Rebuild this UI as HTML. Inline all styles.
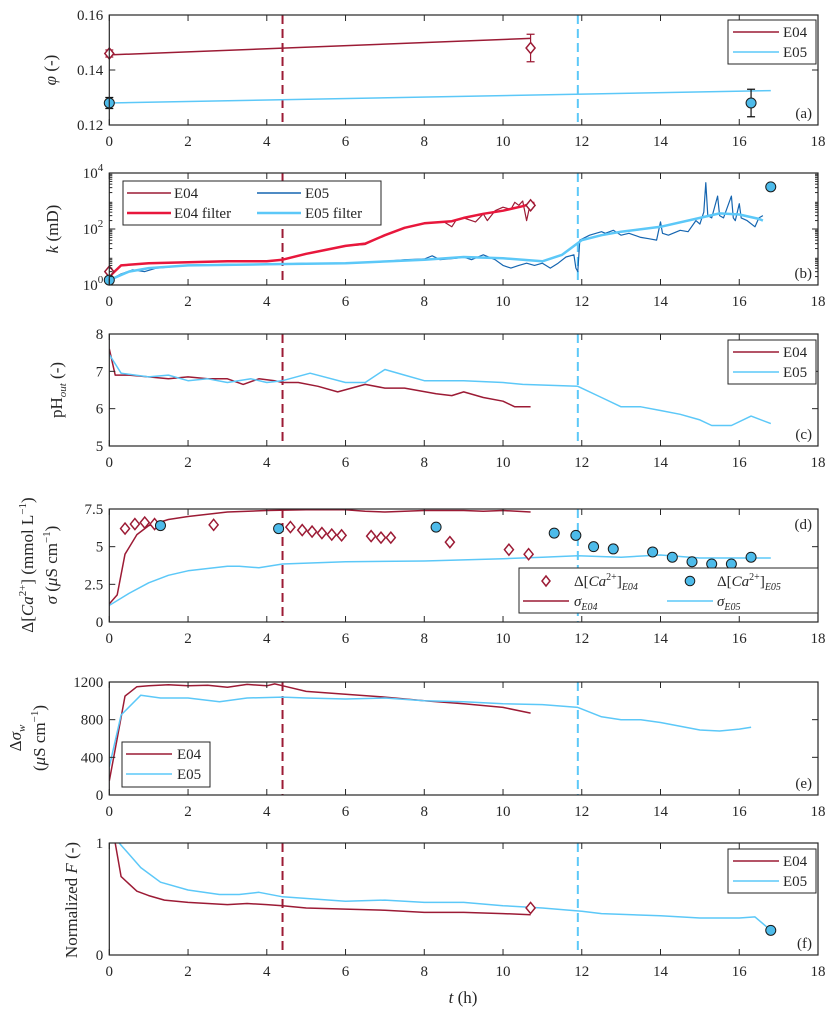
<!DOCTYPE html>
<html><head><meta charset="utf-8"><style>
html,body{margin:0;padding:0;background:#fff}
svg{display:block;font-family:"Liberation Serif",serif}
</style></head><body>
<svg id="fig" width="836" height="1018" viewBox="0 0 836 1018" xmlns="http://www.w3.org/2000/svg"></svg>
<script>
// ---- data ----
const phiE04T=[0,10.7], phiE04V=[0.1455,0.1515];
const phiE05T=[0,16.8], phiE05V=[0.128,0.1325];
const phiE04MarkT=[0,10.7], phiE04MarkV=[0.146,0.148], phiE04Err=[0.0013,0.005];
const phiE05MarkT=[0,16.3], phiE05MarkV=[0.128,0.128], phiE05Err=[0.002,0.005];

const kE04FiltT=[0,0.3,1,2,3,4,4.4,5,5.5,6,6.5,7,7.5,8,8.7,9,9.5,10,10.5,10.8];
const kE04FiltV=[2,5,6,6.5,7,7,8,13,18,25,30,60,110,160,190,250,350,450,650,870];
const kE04RawT=[0,0.3,1,2,3,4,4.4,5,5.5,6,6.5,7,7.5,8,8.5,8.7,8.8,9,9.3,9.5,9.6,9.8,10,10.2,10.3,10.4,10.5,10.6,10.7,10.8];
const kE04RawV=[2,5,6,6.5,7,7,8,13,18,25,28,60,110,160,180,120,200,250,180,350,200,450,600,500,900,700,1000,200,900,700];
const kE05FiltT=[0,0.5,1,2,4,6,8,9,10,11,11.5,12,12.5,13,14,15,15.5,16,16.5,16.6];
const kE05FiltV=[1.5,3,4,5,5.5,6,8,10,9,7,12,40,60,80,120,250,360,330,230,200];
const kE05RawT=[0,0.3,0.6,0.9,1.2,2,3,4,5,6,7,7.5,8,8.2,8.4,8.8,9,9.2,9.5,9.8,10,10.2,10.4,10.6,10.8,11,11.2,11.4,11.6,11.8,11.85,11.9,11.95,12.2,12.5,12.6,12.8,13,13.2,13.5,13.7,13.9,14,14.05,14.2,14.5,14.7,14.9,15.0,15.1,15.15,15.2,15.3,15.45,15.5,15.6,15.8,15.85,15.9,16.0,16.05,16.2,16.4,16.5,16.6];
const kE05RawV=[1.5,2.5,3.5,3,4,5,5.5,5.5,6,6,7,8,8.5,11,8,9,10,8,12,8,5,4,5,6,5,6,4,6,10,12,4,3,40,60,80,70,90,60,70,50,45,40,180,70,60,90,80,200,150,400,4500,300,250,1500,300,250,1500,250,200,800,250,200,120,250,300];
const kE04MarkT=[0,10.7], kE04MarkV=[3,700];
const kE05MarkT=[0,16.8], kE05MarkV=[1.5,3200];

const phE04T=[0,0.15,0.5,1,1.5,2,2.5,3,3.4,3.8,4.2,4.4,4.8,5.3,5.8,6.5,7,7.5,8.3,8.7,9,9.5,10,10.3,10.7];
const phE04V=[7.6,6.9,6.9,6.85,6.8,6.85,6.8,6.8,6.65,6.8,6.75,6.7,6.7,6.6,6.45,6.65,6.55,6.55,6.4,6.35,6.45,6.3,6.2,6.05,6.05];
const phE05T=[0,0.3,1,1.5,2,2.5,3,3.6,4,4.4,5.1,6,6.5,7,7.5,8,9,10,10.5,11.9,12.5,13,13.5,14,14.5,15,15.3,15.8,16.3,16.8];
const phE05V=[7.45,6.95,6.85,6.9,6.75,6.8,6.7,6.8,6.7,6.75,6.95,6.7,6.7,7.05,6.9,6.75,6.75,6.7,6.65,6.6,6.3,6.05,6.05,5.95,5.85,5.7,5.55,5.55,5.8,5.6];

const sgE04T=[0,0.2,0.4,0.7,1,1.5,2,3,4,5,6,6.5,7,8,9,9.5,10,10.7];
const sgE04V=[1.2,1.8,4.5,5.8,6.4,6.8,7.0,7.3,7.4,7.45,7.45,7.35,7.3,7.4,7.4,7.35,7.4,7.3];
const sgE05T=[0,0.5,1,1.5,2,3,3.3,3.8,4.4,6,8,10,11,11.9,13,14,15,16.8];
const sgE05V=[1.1,1.9,2.6,3.1,3.4,3.7,3.7,3.6,3.85,4.0,4.05,4.2,4.3,4.4,4.3,4.45,4.25,4.25];
const caE04T=[0.4,0.65,0.9,1.15,2.65,4.6,4.9,5.15,5.4,5.65,5.9,6.65,6.9,7.15,8.65,10.15,10.65];
const caE04V=[6.2,6.5,6.6,6.5,6.45,6.3,6.1,6.0,5.9,5.8,5.75,5.7,5.6,5.6,5.3,4.8,4.5];
const caE05T=[1.3,4.3,8.3,11.3,11.85,12.3,12.8,13.8,14.3,14.8,15.3,15.8,16.3];
const caE05V=[6.4,6.2,6.3,5.9,5.75,5.0,4.85,4.65,4.3,4.0,3.85,3.85,4.3];

const dsE04T=[0,0.2,0.4,0.7,1,1.5,2,2.5,3,3.5,4,4.2,4.5,5,6,7,8,9,10,10.7];
const dsE04V=[150,600,1050,1150,1160,1170,1160,1165,1145,1175,1160,1180,1150,1100,1070,1040,1000,970,930,870];
const dsE05T=[0,0.3,0.8,1.3,2,2.8,3.5,4.4,5,6,7,8,9,10,11,11.9,12.5,13,13.5,14,15,15.5,16,16.3];
const dsE05V=[300,850,1060,1030,1030,990,1030,1040,1030,1020,1030,1000,990,970,960,930,830,800,800,770,690,680,700,720];

const fE04T=[0,0.15,0.3,0.7,1,1.4,2,3,3.5,4,4.4,5,6,7,8,9,10,10.7];
const fE04V=[1.1,1,0.7,0.57,0.53,0.49,0.47,0.45,0.46,0.45,0.44,0.42,0.41,0.4,0.38,0.38,0.37,0.36];
const fE05T=[0,0.3,0.8,1.3,2,2.8,3.3,3.8,4.4,6,7,8,9,10,11,12,12.5,14,15,16,16.4,16.8];
const fE05V=[1.1,0.98,0.78,0.65,0.58,0.54,0.54,0.56,0.52,0.48,0.49,0.47,0.47,0.44,0.42,0.39,0.37,0.35,0.33,0.33,0.34,0.22];
const fE04MarkT=[10.7], fE04MarkV=[0.42];
const fE05MarkT=[16.8], fE05MarkV=[0.22];

const xTicks=[0,2,4,6,8,10,12,14,16,18];
const eventT=[4.4,11.9];

// ---- drawing ----
const NS="http://www.w3.org/2000/svg";
const svg=document.getElementById('fig');
const DR="#9c1b35", LB="#5cc8f8", RD="#e8173c", DB="#1565b0";
const X0=109.3,X1=818;
const xs=t=>X0+t*(X1-X0)/18;
function mk(tag,attrs,parent){const e=document.createElementNS(NS,tag);for(const k in attrs)e.setAttribute(k,attrs[k]);(parent||svg).appendChild(e);return e;}
function txt(x,y,s,anchor,size,parent,style){const e=mk('text',{x:x,y:y,'text-anchor':anchor||'middle','font-size':size||15,fill:'#262626'},parent);if(style)e.setAttribute('style',style);e.innerHTML=s;return e;}

const panels=[
 {id:'a',top:15,bot:125,min:0.12,max:0.16,ticks:[0.12,0.14,0.16],lab:['0.12','0.14','0.16']},
 {id:'b',top:173,bot:285,min:0,max:4,log:true,ticks:[0,2,4],lab:['10<tspan dy="-7" font-size="11">0</tspan>','10<tspan dy="-7" font-size="11">2</tspan>','10<tspan dy="-7" font-size="11">4</tspan>']},
 {id:'c',top:334,bot:446,min:5,max:8,ticks:[5,6,7,8],lab:['5','6','7','8']},
 {id:'d',top:509,bot:622,min:0,max:7.5,ticks:[0,2.5,5,7.5],lab:['0','2.5','5','7.5'],labTop:true},
 {id:'e',top:682,bot:795,min:0,max:1200,ticks:[0,400,800,1200],lab:['0','400','800','1200']},
 {id:'f',top:843,bot:955,min:0,max:1,ticks:[0,1],lab:['0','1']}
];
panels.forEach(p=>{
  p.ys=v=>{const u=p.log?Math.log10(v):v;return p.bot-(u-p.min)/(p.max-p.min)*(p.bot-p.top);};
  const g=mk('g',{});
  
  
  p.g=g;
  const cp=mk('clipPath',{id:'clip'+p.id},g);
  mk('rect',{x:X0,y:p.top,width:X1-X0,height:p.bot-p.top},cp);
  p.plot=mk('g',{'clip-path':'url(#clip'+p.id+')'},g);
  eventT.forEach((t,i)=>{
    const l=mk('line',{x1:xs(t),x2:xs(t),y1:p.top,y2:p.bot,stroke:i?LB:DR,'stroke-width':2,'stroke-dasharray':'9,5'},p.plot);
    
    
  });
});

function line(p,T,V,color,w,name){
  const d=T.map((t,i)=>(i?'L':'M')+xs(t).toFixed(1)+','+p.ys(V[i]).toFixed(1)).join('');
  const e=mk('path',{d:d,fill:'none',stroke:color,'stroke-width':w,'stroke-linejoin':'round'},p.plot);
  
  
}
function diamonds(p,T,V,name,err){
  T.forEach((t,i)=>{
    const x=xs(t),y=p.ys(V[i]);
    if(err){const y1=p.ys(V[i]+err[i]),y2=p.ys(V[i]-err[i]);
      const eb=mk('path',{d:`M${x},${y1}V${y2}M${x-4},${y1}H${x+4}M${x-4},${y2}H${x+4}`,stroke:DR,'stroke-width':1.2,fill:'none'},p.g);
      
      }
    const e=mk('path',{d:`M${x},${y-5.5}L${x+4.5},${y}L${x},${y+5.5}L${x-4.5},${y}Z`,fill:'#fff',stroke:DR,'stroke-width':1.5},p.g);
    
    
  });
}
function circles(p,T,V,name,err){
  T.forEach((t,i)=>{
    const x=xs(t),y=p.ys(V[i]);
    if(err){const y1=p.ys(V[i]+err[i]),y2=p.ys(V[i]-err[i]);
      const eb=mk('path',{d:`M${x},${y1}V${y2}M${x-4},${y1}H${x+4}M${x-4},${y2}H${x+4}`,stroke:'#111','stroke-width':1.2,fill:'none'},p.g);
      
      }
    const e=mk('circle',{cx:x,cy:y,r:5,fill:'#4dbbea',stroke:'#1a1a1a','stroke-width':1},p.g);
    
    
  });
}
const [pa,pb,pc,pd,pe,pf]=panels;
line(pa,phiE04T,phiE04V,DR,1.5,'phi-e04-line');
line(pa,phiE05T,phiE05V,LB,1.5,'phi-e05-line');
diamonds(pa,phiE04MarkT,phiE04MarkV,'phi-e04-marker',phiE04Err);
circles(pa,phiE05MarkT,phiE05MarkV,'phi-e05-marker',phiE05Err);

line(pb,kE04RawT,kE04RawV,DR,1.2,'k-e04-raw');
line(pb,kE04FiltT,kE04FiltV,RD,2.5,'k-e04-filter');
line(pb,kE05RawT,kE05RawV,DB,1.2,'k-e05-raw');
line(pb,kE05FiltT,kE05FiltV,LB,2.5,'k-e05-filter');
diamonds(pb,kE04MarkT,kE04MarkV,'k-e04-marker');
circles(pb,kE05MarkT,kE05MarkV,'k-e05-marker');

line(pc,phE04T,phE04V,DR,1.5,'ph-e04-line');
line(pc,phE05T,phE05V,LB,1.5,'ph-e05-line');

line(pd,sgE04T,sgE04V,DR,1.5,'sigma-e04-line');
line(pd,sgE05T,sgE05V,LB,1.5,'sigma-e05-line');
diamonds(pd,caE04T,caE04V,'ca-e04-marker');
circles(pd,caE05T,caE05V,'ca-e05-marker');

line(pe,dsE04T,dsE04V,DR,1.5,'dsigma-e04-line');
line(pe,dsE05T,dsE05V,LB,1.5,'dsigma-e05-line');

line(pf,fE04T,fE04V,DR,1.5,'f-e04-line');
line(pf,fE05T,fE05V,LB,1.5,'f-e05-line');
diamonds(pf,fE04MarkT,fE04MarkV,'f-e04-marker');
circles(pf,fE05MarkT,fE05MarkV,'f-e05-marker');

panels.forEach(p=>{
  const ax=mk('g',{},p.g);
  
  
  mk('rect',{x:X0,y:p.top,width:X1-X0,height:p.bot-p.top,fill:'none',stroke:'#262626','stroke-width':1.2},ax);
  xTicks.forEach(t=>{
    const x=xs(t);
    mk('line',{x1:x,x2:x,y1:p.bot,y2:p.bot-6,stroke:'#262626'},ax);
    mk('line',{x1:x,x2:x,y1:p.top,y2:p.top+6,stroke:'#262626'},ax);
    const tl=txt(x,p.bot+21,String(t),'middle',15,ax);
    
    
  });
  p.ticks.forEach((v,i)=>{
    const y=p.bot-(v-p.min)/(p.max-p.min)*(p.bot-p.top);
    mk('line',{x1:X0,x2:X0+6,y1:y,y2:y,stroke:'#262626'},ax);
    mk('line',{x1:X1,x2:X1-6,y1:y,y2:y,stroke:'#262626'},ax);
    const tl=txt(X0-6,y+5,p.lab[i],'end',15,ax);
    
    
  });
  if(p.log){for(let dec=0;dec<4;dec++)for(let m=2;m<10;m++){const y=p.ys(m*Math.pow(10,dec));
    mk('line',{x1:X0,x2:X0+3,y1:y,y2:y,stroke:'#262626'},ax);mk('line',{x1:X1,x2:X1-3,y1:y,y2:y,stroke:'#262626'},ax);}}
  const pl=txt(X1-6,p.labTop?p.top+20:p.bot-7,'('+p.id+')','end',15,ax);
  
  
});

function ylab(x,y,s,name,size){const e=txt(x,y,s,'middle',size||17,svg);e.setAttribute('transform',`rotate(-90 ${x} ${y})`);
  }
ylab(56,70,'<tspan font-style="italic">φ</tspan> (-)','y-axis-title-phi');
ylab(58,229,'<tspan font-style="italic">k</tspan> (mD)','y-axis-title-k');
ylab(62,390,'pH<tspan font-size="11" dy="4" font-style="italic">out</tspan><tspan dy="-4"> (-)</tspan>','y-axis-title-ph');
ylab(33,565,'Δ[<tspan font-style="italic">Ca</tspan><tspan font-size="11" dy="-7">2+</tspan><tspan dy="7">] (mmol L</tspan><tspan font-size="11" dy="-7">−1</tspan><tspan dy="7">)</tspan>','y-axis-title-ca');
ylab(57,565,'<tspan font-style="italic">σ</tspan> (<tspan font-style="italic">μ</tspan>S cm<tspan font-size="11" dy="-7">−1</tspan><tspan dy="7">)</tspan>','y-axis-title-sigma');
ylab(21,738,'Δ<tspan font-style="italic">σ</tspan><tspan font-size="11" dy="4" font-style="italic">w</tspan>','y-axis-title-dsigma');
ylab(45,738,'(<tspan font-style="italic">μ</tspan>S cm<tspan font-size="11" dy="-7">−1</tspan><tspan dy="7">)</tspan>','y-axis-title-dsigma-unit');
ylab(77,900,'Normalized <tspan font-style="italic">F</tspan> (-)','y-axis-title-f');
const xl=txt(463,1003,'<tspan font-style="italic">t</tspan> (h)','middle',17,svg);



function legend(x,y,w,h,items,name){
  const g=mk('g',{},svg);
  
  
  mk('rect',{x:x,y:y,width:w,height:h,fill:'#fff',stroke:'#262626','stroke-width':1},g);
  items.forEach(it=>{
    if(it.type==='line')mk('line',{x1:it.x,x2:it.x+it.len,y1:it.y-5,y2:it.y-5,stroke:it.c,'stroke-width':it.w||1.5},g);
    if(it.type==='dia')mk('path',{d:`M${it.x},${it.y-10}L${it.x+4},${it.y-5}L${it.x},${it.y}L${it.x-4},${it.y-5}Z`,fill:'#fff',stroke:DR,'stroke-width':1.5},g);
    if(it.type==='cir')mk('circle',{cx:it.x,cy:it.y-5,r:4.8,fill:'#4dbbea',stroke:'#1a1a1a'},g);
    const t=txt(it.tx,it.y,it.s,'start',15,g);
    
    
  });
}
const lr=(y)=>[{type:'line',x:733,len:46,y:y+17,c:DR,tx:783,s:'E04'},{type:'line',x:733,len:46,y:y+37,c:LB,tx:783,s:'E05'}];
legend(728,20,88,44,lr(20),'legend-a');
legend(728,340,88,44,lr(340),'legend-c');
legend(728,849,88,44,lr(849),'legend-f');
legend(122,742,88,45,[{type:'line',x:126,len:46,y:759,c:DR,tx:177,s:'E04'},{type:'line',x:126,len:46,y:779,c:LB,tx:177,s:'E05'}],'legend-e');
legend(123,181,258,44,[
 {type:'line',x:127,len:44,y:198,c:DR,tx:174,s:'E04'},
 {type:'line',x:257,len:44,y:198,c:DB,tx:305,s:'E05'},
 {type:'line',x:127,len:44,y:218,c:RD,w:2.5,tx:174,s:'E04 filter'},
 {type:'line',x:257,len:44,y:218,c:LB,w:2.5,tx:305,s:'E05 filter'}],'legend-b');
legend(519,568,299,45,[
 {type:'dia',x:546,y:586,tx:574,s:'Δ[<tspan font-style="italic">Ca</tspan><tspan font-size="10" dy="-6">2+</tspan><tspan dy="6">]</tspan><tspan font-size="10" dy="4" font-style="italic">E04</tspan>'},
 {type:'cir',x:690,y:586,tx:717,s:'Δ[<tspan font-style="italic">Ca</tspan><tspan font-size="10" dy="-6">2+</tspan><tspan dy="6">]</tspan><tspan font-size="10" dy="4" font-style="italic">E05</tspan>'},
 {type:'line',x:523,len:46,y:606,c:DR,tx:574,s:'<tspan font-style="italic">σ</tspan><tspan font-size="10" dy="4" font-style="italic">E04</tspan>'},
 {type:'line',x:667,len:46,y:606,c:LB,tx:717,s:'<tspan font-style="italic">σ</tspan><tspan font-size="10" dy="4" font-style="italic">E05</tspan>'}],'legend-d');
</script>
</body></html>
